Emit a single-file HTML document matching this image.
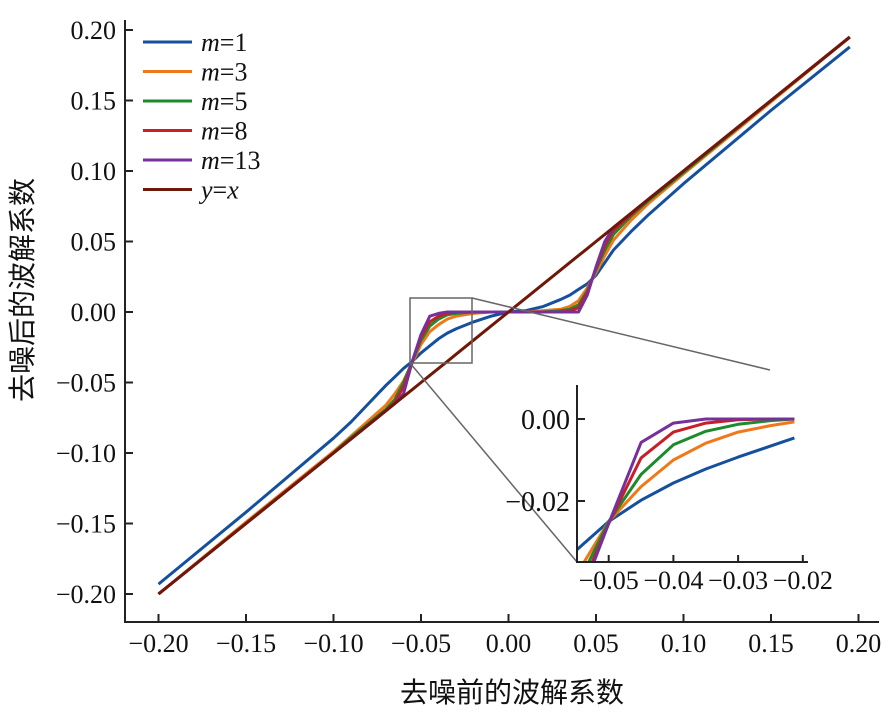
<!DOCTYPE html>
<html><head><meta charset="utf-8"><style>
body{margin:0;background:#fff;}
svg{display:block;}
text{font-family:"Liberation Serif","Noto Serif CJK SC",serif;fill:#111;}
</style></head><body>
<svg id="chart" width="890" height="715" viewBox="0 0 890 715" xmlns="http://www.w3.org/2000/svg">
<defs>
<clipPath id="mainclip"><rect x="126" y="20" width="752" height="601"/></clipPath>
<clipPath id="insclip"><rect x="578" y="385" width="230" height="176"/></clipPath>
</defs>
<g id="main"></g>
<g id="inset"></g>
<g id="legend"></g>
<text x="512" y="702" text-anchor="middle" font-size="28" style="font-family:'Noto Sans CJK SC',sans-serif">去噪前的波解系数</text>
<text transform="translate(32,290) rotate(-90)" text-anchor="middle" font-size="28" style="font-family:'Noto Sans CJK SC',sans-serif">去噪后的波解系数</text>
</svg>
<script>
const mainX = [-0.2,-0.15,-0.1,-0.09,-0.08,-0.07,-0.065,-0.06,-0.055,-0.05,-0.045,-0.04,-0.035,-0.03,-0.02,-0.01,0,0.01,0.02,0.03,0.035,0.04,0.045,0.05,0.055,0.06,0.07,0.08,0.1,0.15,0.195];
const mainM1 = [-0.193,-0.142,-0.0895,-0.078,-0.065,-0.052,-0.046,-0.040,-0.035,-0.029,-0.024,-0.019,-0.015,-0.012,-0.007,-0.003,0,0.001,0.004,0.009,0.012,0.016,0.020,0.026,0.035,0.044,0.057,0.069,0.091,0.143,0.188];
const mainM3 = [-0.2,-0.149,-0.099,-0.088,-0.077,-0.066,-0.058,-0.049,-0.036,-0.023,-0.014,-0.009,-0.005,-0.003,-0.001,0,0,0,0.001,0.002,0.004,0.008,0.017,0.028,0.040,0.051,0.065,0.077,0.098,0.149,0.195];
const mainM5 = [-0.2,-0.15,-0.1,-0.089,-0.079,-0.069,-0.062,-0.050,-0.035,-0.020,-0.010,-0.005,-0.002,-0.001,0,0,0,0,0,0.001,0.002,0.005,0.015,0.030,0.044,0.055,0.068,0.079,0.099,0.15,0.195];
const mainM8 = [-0.2,-0.15,-0.1,-0.09,-0.08,-0.07,-0.064,-0.053,-0.035,-0.018,-0.007,-0.003,-0.001,0,0,0,0,0,0,0,0.001,0.003,0.014,0.031,0.047,0.058,0.069,0.08,0.1,0.15,0.195];
const mainM13 = [-0.2,-0.15,-0.1,-0.09,-0.08,-0.07,-0.065,-0.058,-0.035,-0.016,-0.003,-0.001,0,0,0,0,0,0,0,0,0,0,0.012,0.032,0.050,0.060,0.070,0.08,0.1,0.15,0.195];
const mainYX = [-0.2,-0.15,-0.1,-0.09,-0.08,-0.07,-0.065,-0.06,-0.055,-0.05,-0.045,-0.04,-0.035,-0.03,-0.02,-0.01,0,0.01,0.02,0.03,0.035,0.04,0.045,0.05,0.055,0.06,0.07,0.08,0.1,0.15,0.195];
const mainTicks = [-0.2,-0.15,-0.1,-0.05,0,0.05,0.1,0.15,0.2];
const mainTickLabels = ["\u22120.20","\u22120.15","\u22120.10","\u22120.05","0.00","0.05","0.10","0.15","0.20"];

const insX = [-0.055,-0.05,-0.045,-0.04,-0.035,-0.03,-0.025,-0.0213];
const insM1 = [-0.032,-0.025,-0.0198,-0.0156,-0.0122,-0.0093,-0.0066,-0.0046];
const insM3 = [-0.038,-0.025,-0.0165,-0.010,-0.0059,-0.0032,-0.0016,-0.0007];
const insM5 = [-0.041,-0.025,-0.0135,-0.0063,-0.003,-0.0013,-0.0004,0];
const insM8 = [-0.044,-0.0255,-0.0095,-0.0032,-0.001,-0.0002,0,0];
const insM13 = [-0.046,-0.0255,-0.0057,-0.001,0,0,0,0];
const insXTicks = [-0.05,-0.04,-0.03,-0.02];
const insXTickLabels = ["\u22120.05","\u22120.04","\u22120.03","\u22120.02"];
const insYTicks = [0,-0.02];
const insYTickLabels = ["0.00","\u22120.02"];

const seriesNames = ["m=1","m=3","m=5","m=8","m=13","y=x"];
const colors = ["#14509e","#f07818","#1d8a2c","#c61f26","#76309a","#701808"];

const NS="http://www.w3.org/2000/svg";
function mk(tag, parent, attrs){const e=document.createElementNS(NS,tag);for(const k in attrs)e.setAttribute(k,attrs[k]);parent.appendChild(e);return e;}
const mx=v=>508.5+v*1750, my=v=>312-v*1410;
const ix=v=>577+(v+0.0549)*6470, iy=v=>419-v*4100;

const main=document.getElementById('main');
let a=mk('line',main,{x1:125,y1:20,x2:125,y2:622,stroke:'#222','stroke-width':2});


a=mk('line',main,{x1:124,y1:622,x2:879,y2:622,stroke:'#222','stroke-width':2});


mainTicks.forEach((t,i)=>{
  let l=mk('line',main,{x1:mx(t),y1:622,x2:mx(t),y2:614,stroke:'#222','stroke-width':2});
  
  
  let tx=mk('text',main,{x:mx(t),y:652,'text-anchor':'middle','font-size':26});
  tx.textContent=mainTickLabels[i];
  
  
  l=mk('line',main,{x1:125,y1:my(t),x2:133,y2:my(t),stroke:'#222','stroke-width':2});
  
  
  tx=mk('text',main,{x:116,y:my(t)+9,'text-anchor':'end','font-size':26});
  tx.textContent=mainTickLabels[i];
  
  
});
const mainSeries=[mainM1,mainM3,mainM5,mainM8,mainM13,mainYX];
const mg=mk('g',main,{'clip-path':'url(#mainclip)'});
mainSeries.forEach((s,k)=>{
  const d=s.map((v,i)=>(i?'L':'M')+mx(mainX[i]).toFixed(1)+' '+my(v).toFixed(1)).join(' ');
  const p=mk('path',mg,{d:d,fill:'none',stroke:colors[k],'stroke-width':3,'stroke-linejoin':'round'});
  
  
});
let zb=mk('rect',main,{x:410,y:298,width:62,height:65,fill:'none',stroke:'#666','stroke-width':1.5});


let c1=mk('line',main,{x1:472,y1:298,x2:770,y2:370,stroke:'#666','stroke-width':1.5});


let c2=mk('line',main,{x1:410,y1:363,x2:577,y2:562,stroke:'#666','stroke-width':1.5});



const ins=document.getElementById('inset');
let bg=mk('rect',ins,{x:578,y:380,width:240,height:182,fill:'#fff'});


a=mk('line',ins,{x1:577,y1:385,x2:577,y2:562,stroke:'#222','stroke-width':2});


a=mk('line',ins,{x1:576,y1:562,x2:808,y2:562,stroke:'#222','stroke-width':2});


insXTicks.forEach((t,i)=>{
  let l=mk('line',ins,{x1:ix(t),y1:562,x2:ix(t),y2:555,stroke:'#222','stroke-width':2});
  
  
  let tx=mk('text',ins,{x:ix(t),y:589,'text-anchor':'middle','font-size':26});
  tx.textContent=insXTickLabels[i];
  
  
});
insYTicks.forEach((t,i)=>{
  let l=mk('line',ins,{x1:577,y1:iy(t),x2:585,y2:iy(t),stroke:'#222','stroke-width':2});
  
  
  let tx=mk('text',ins,{x:570,y:iy(t)+10,'text-anchor':'end','font-size':28});
  tx.textContent=insYTickLabels[i];
  
  
});
const ig=mk('g',ins,{'clip-path':'url(#insclip)'});
[insM1,insM3,insM5,insM8,insM13].forEach((s,k)=>{
  const d=s.map((v,i)=>(i?'L':'M')+ix(insX[i]).toFixed(1)+' '+iy(v).toFixed(1)).join(' ');
  const p=mk('path',ig,{d:d,fill:'none',stroke:colors[k],'stroke-width':3,'stroke-linejoin':'round'});
  
  
});

const lg=document.getElementById('legend');
seriesNames.forEach((n,k)=>{
  const y=42+k*29.5;
  const g=mk('g',lg,{});
  
  
  mk('line',g,{x1:143,y1:y,x2:192,y2:y,stroke:colors[k],'stroke-width':3});
  const t=mk('text',g,{x:201,y:y+9,'font-size':26});
  const parts=n.split('=');
  const it=mk('tspan',t,{'font-style':'italic'});it.textContent=parts[0];
  const r=mk('tspan',t,{});
  r.textContent='='+(parts[1]==='x'?'':parts[1]);
  if(parts[1]==='x'){const i2=mk('tspan',t,{'font-style':'italic'});i2.textContent='x';}
});
</script>
</body></html>
